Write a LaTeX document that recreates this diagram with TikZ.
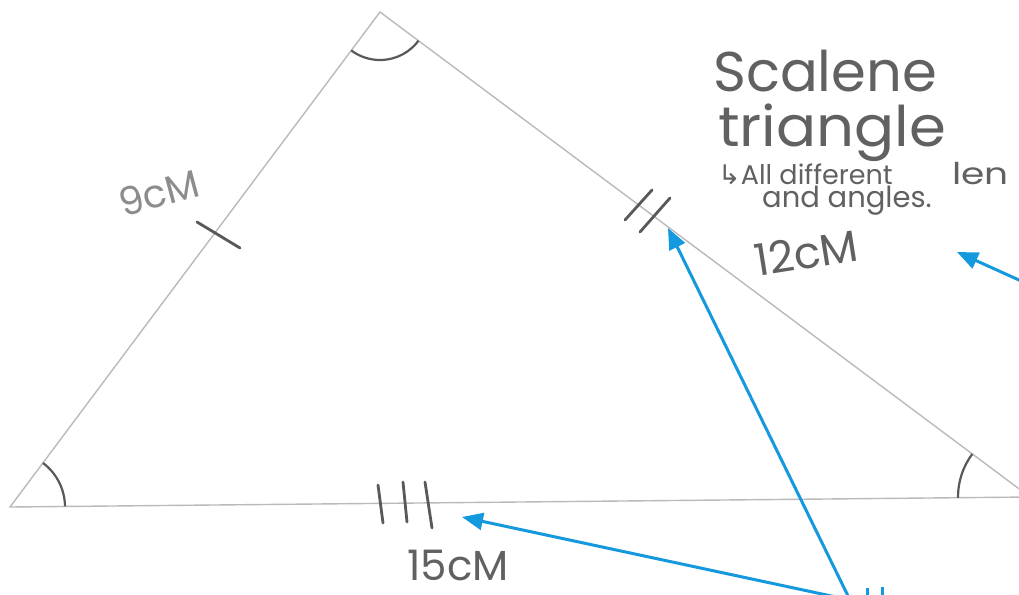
\documentclass[tikz,border=0pt]{standalone}
\usepackage{fontspec}
\setmainfont{Poppins}
\newfontfamily\symf{DejaVu Sans}
\usetikzlibrary{arrows.meta,calc}
\definecolor{arrowblue}{RGB}{20,152,222}
\begin{document}
\begin{tikzpicture}[x=1pt,y=-1pt,
  side/.style={draw=black!27, line width=1.4pt},
  tickm/.style={draw=black!65, line width=2.8pt, line cap=round},
  arcm/.style={draw=black!65, line width=2.2pt},
  hand/.style={text=black!62, inner sep=0pt},
  callout/.style={draw=arrowblue, line width=3pt, -{Triangle[length=21pt,width=17pt]}}
]
\useasboundingbox (0,0) rectangle (1019,594);
\clip (0,0) rectangle (1019,594);
\fill[white] (0,0) rectangle (1019,594);
% triangle
\coordinate (T) at (380,12);
\coordinate (L) at (10,507);
\coordinate (R) at (1030,497);
\draw[side] (L) -- (T) -- (R) -- cycle;
% angle marks
\draw[arcm] ($(T)+(36.7:48)$) arc[start angle=36.7, end angle=126.8, radius=48];
\draw[arcm] ($(L)+(-0.6:55)$) arc[start angle=-0.6, end angle=-53.2, radius=55];
\draw[arcm] ($(R)+(179.4:72)$) arc[start angle=179.4, end angle=216.7, radius=72];
% tick marks
\draw[tickm] (197,222) -- (240,248);
\draw[tickm] (625,220) -- (652,190);
\draw[tickm] (640,232) -- (670,198);
\draw[tickm] (378,485) -- (383,523);
\draw[tickm] (403,482) -- (407,522);
\draw[tickm] (425,482) -- (432,528);
% texts
\node[hand, font=\fontsize{56}{56}\selectfont, anchor=base west] (scalene) at (713,92) {Scalene};
\node[hand, font=\fontsize{56}{56}\selectfont, anchor=base west, xscale=1.06] (triangle) at (718,146) {triangle};
\node[hand, font=\fontsize{27}{27}\selectfont, anchor=base west] (note1) at (718,184) {{\symf ↳}All different};
\node[hand, font=\fontsize{30}{30}\selectfont, anchor=base west, xscale=1.25] (len) at (952,184) {len};
\node[hand, font=\fontsize{29}{29}\selectfont, anchor=base west] (note2) at (762,207) {and angles.};
\node[hand, font=\fontsize{44}{44}\selectfont, anchor=base west, rotate=9] (twelve) at (757,277) {12cM};
\node[hand, text=black!45, font=\fontsize{39}{39}\selectfont, rotate=15] (nine) at (159,193) {9cM};
\node[hand, font=\fontsize{42}{42}\selectfont] (fifteen) at (458,565) {15cM};
% callout arrows
\coordinate (a1) at (850,600);
\coordinate (a1t) at (462,517);
\coordinate (a2t) at (668,228);
\coordinate (a3) at (1030,285);
\coordinate (a3t) at (957,252);
\draw[callout] (a1) -- (a1t);
\draw[callout] (a1) -- (a2t);
\draw[callout] (a3) -- (a3t);
\draw[draw=arrowblue, line width=3pt] (867,588) -- (867,600);
\draw[draw=arrowblue, line width=3pt] (882,587) -- (882,600);
\end{tikzpicture}
\end{document}
